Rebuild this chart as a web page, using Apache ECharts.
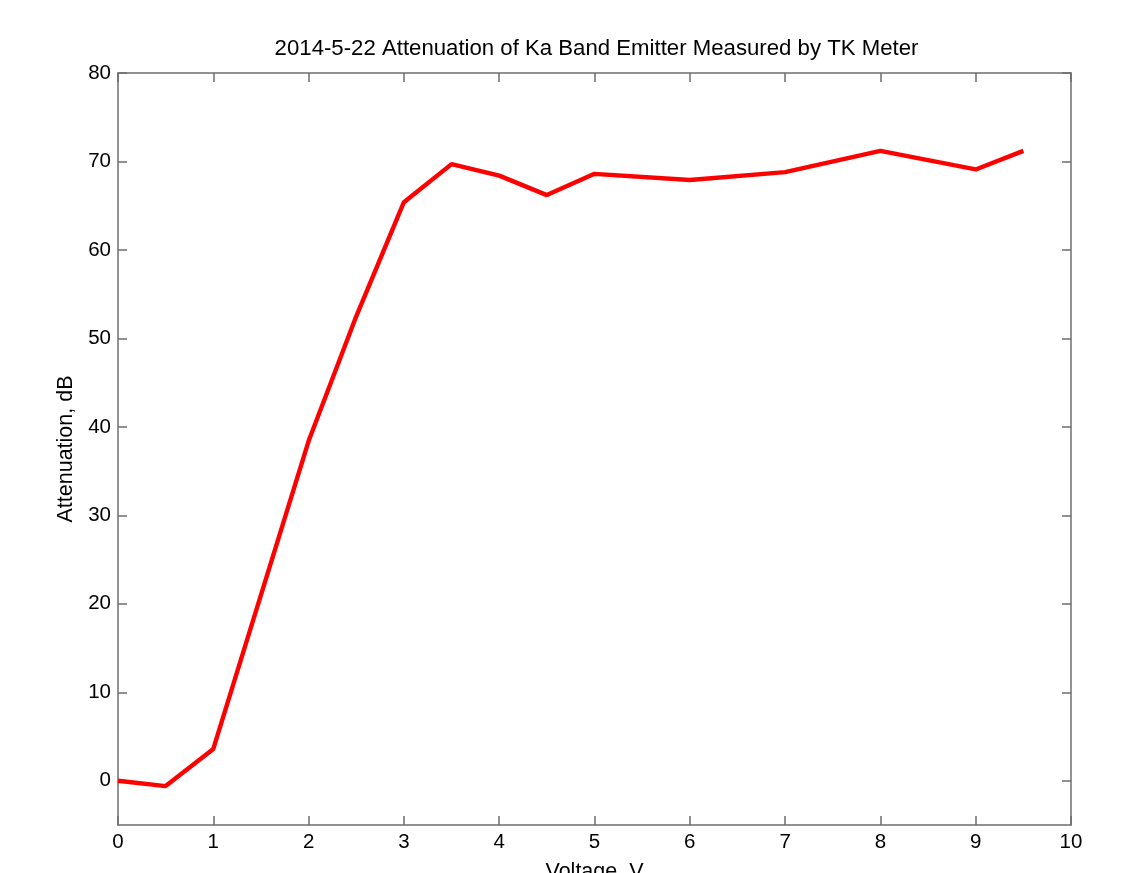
<!DOCTYPE html>
<html>
<head>
<meta charset="utf-8">
<script src="https://cdn.jsdelivr.net/npm/echarts@6/dist/echarts.min.js"></script>
<style>
html, body { margin: 0; padding: 0; background: #fff; }
#chart { width: 1124px; height: 873px; }
</style>
</head>
<body>
<div id="chart"></div>
<script>
// Voltage steps (V) and measured attenuation (dB)
const voltage = [0, 0.5, 1, 2, 2.5, 3, 3.5, 4, 4.5, 5, 6, 7, 8, 9, 9.5];
const attenuation = [0, -0.6, 3.6, 38.4, 52.5, 65.4, 69.7, 68.4, 66.2, 68.6, 67.9, 68.8, 71.2, 69.1, 71.2];

// Labelled y ticks (the range extends down to -5 without a label there)
const yTicks = [0, 10, 20, 30, 40, 50, 60, 70, 80];

const titleText = '2014-5-22 Attenuation of Ka Band Emitter Measured by TK Meter';
const xName = 'Voltage, V';
const yName = 'Attenuation, dB';

const font = 'Liberation Sans, Arial, Helvetica, sans-serif';
const axisColor = '#6e6e6e';

const gridLeft = 118;
const gridRight = 53;
const chartWidth = 1124;

const chart = echarts.init(document.getElementById('chart'), null, { renderer: 'canvas' });

const lineStyle = { color: axisColor, width: 1.5 };
const axisLine = { show: true, onZero: false, lineStyle: lineStyle };

chart.setOption({
  animation: false,
  backgroundColor: '#fff',
  title: {
    text: titleText,
    // centred over the plot area
    left: gridLeft + (chartWidth - gridLeft - gridRight) / 2 - 3,
    textAlign: 'center',
    top: 33,
    textStyle: { fontFamily: font, fontSize: 22.2, fontWeight: 'normal', color: '#000' }
  },
  grid: {
    left: gridLeft, right: gridRight, top: 73, bottom: 48,
    containLabel: false,
    outerBoundsMode: 'none'
  },
  xAxis: [
    {
      type: 'value', min: 0, max: 10, interval: 1, position: 'bottom',
      name: xName, nameLocation: 'middle', nameGap: 36,
      nameTextStyle: { fontFamily: font, fontSize: 21.5, color: '#000' },
      axisLine: axisLine,
      axisTick: { show: true, inside: true, length: 9, lineStyle: lineStyle },
      axisLabel: { fontFamily: font, fontSize: 20.5, color: '#000', margin: 7 },
      splitLine: { show: false }
    },
    {
      type: 'value', min: 0, max: 10, interval: 1, position: 'top',
      axisLine: axisLine,
      axisTick: { show: true, inside: true, length: 9, lineStyle: lineStyle },
      axisLabel: { show: false },
      splitLine: { show: false }
    }
  ],
  yAxis: [
    {
      type: 'value', min: -5, max: 80, interval: 5, position: 'left',
      name: yName, nameLocation: 'middle', nameGap: 27,
      nameTextStyle: { fontFamily: font, fontSize: 21.5, color: '#000' },
      axisLine: axisLine,
      axisLabel: { fontFamily: font, fontSize: 20.5, color: '#000', margin: 7, customValues: yTicks },
      axisTick: { show: true, inside: true, length: 9, lineStyle: lineStyle, customValues: yTicks },
      splitLine: { show: false }
    },
    {
      type: 'value', min: -5, max: 80, interval: 5, position: 'right',
      axisLine: axisLine,
      axisLabel: { show: false },
      axisTick: { show: true, inside: true, length: 9, lineStyle: lineStyle, customValues: yTicks },
      splitLine: { show: false }
    }
  ],
  series: [{
    type: 'line',
    xAxisIndex: 0,
    yAxisIndex: 0,
    data: voltage.map((v, i) => [v, attenuation[i]]),
    showSymbol: false,
    symbol: 'none',
    lineStyle: { color: '#ff0000', width: 4.4 },
    itemStyle: { color: '#ff0000' }
  }]
});
</script>
</body>
</html>
